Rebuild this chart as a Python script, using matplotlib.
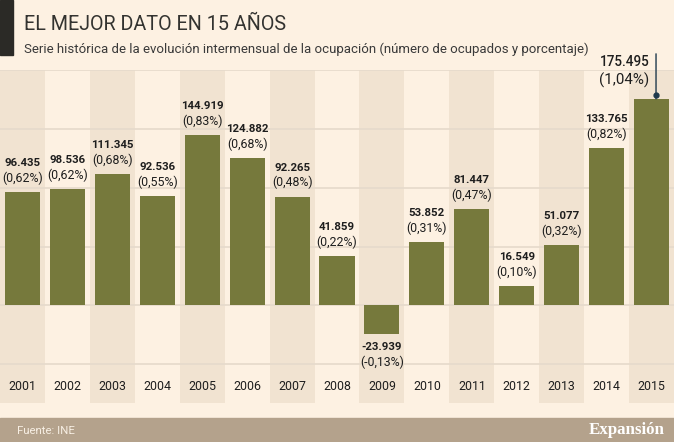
import matplotlib.pyplot as plt
from matplotlib.patches import Rectangle

years = ['2001', '2002', '2003', '2004', '2005', '2006', '2007', '2008',
         '2009', '2010', '2011', '2012', '2013', '2014', '2015']
ocupados = [96435, 98536, 111345, 92536, 144919, 124882, 92265, 41859,
            -23939, 53852, 81447, 16549, 51077, 133765, 175495]
pct = ['0,62', '0,62', '0,68', '0,55', '0,83', '0,68', '0,48', '0,22',
       '-0,13', '0,31', '0,47', '0,10', '0,32', '0,82', '1,04']

bg = '#fdf1e2'
band = '#f1e3d1'
grid = '#e7dbcc'
bar_col = '#76793c'
txt = '#1e1e1e'

plt.rcParams['font.family'] = ['Roboto', 'DejaVu Sans']

W, H = 674, 442
fig = plt.figure(figsize=(W / 100, H / 100), dpi=100)
fig.patch.set_facecolor(bg)
renderer = fig.canvas.get_renderer()


def fy(py):
    return 1 - py / H


def fit(t, target_px):
    # shrink/grow font until the text is as wide as in the reference
    w = t.get_window_extent(renderer).width
    t.set_fontsize(t.get_fontsize() * target_px / w)
    return t.get_fontsize()


# title block
fig.patches.append(Rectangle((0, fy(55)), 13 / W, 55 / H, transform=fig.transFigure,
                             color='#2b2a26', zorder=5))
t = fig.text(24 / W, fy(24), 'EL MEJOR DATO EN 15 AÑOS', fontsize=16, color='#333330',
             va='center', ha='left')
fit(t, 263)
t = fig.text(24 / W, fy(49), 'Serie histórica de la evolución intermensual de la ocupación '
             '(número de ocupados y porcentaje)', fontsize=10, color='#3a3a3a',
             va='center', ha='left')
fit(t, 566)

# footer
fig.patches.append(Rectangle((0, 0), 1, 24 / H, transform=fig.transFigure,
                             color='#b4a28c', zorder=5))
t = fig.text(17 / W, fy(431), 'Fuente: INE', fontsize=9, color='#f7efe4', va='center',
             ha='left', zorder=6)
fit(t, 58)
t = fig.text(665 / W, fy(430), 'Expansión', fontsize=12.5, color='white', va='center',
             ha='right', family='Liberation Serif', weight='bold', zorder=6)
fit(t, 76)

# chart area: 200.000 sits at y=70px, zero at ~305px, band bottom at 403px
top_px, bot_px = 70, 403
ax = fig.add_axes([0, fy(bot_px), 1, (bot_px - top_px) / H])
ax.set_facecolor(bg)
n = len(years)
x = list(range(n))
ax.set_xlim(-0.5, n - 0.5)
ax.set_ylim(-83000, 200000)
ax.axis('off')

for i in x:
    if i % 2 == 0:
        ax.axvspan(i - 0.5, i + 0.5, color=band, zorder=0, lw=0)
for g in [-50000, 0, 50000, 100000, 150000, 200000]:
    ax.axhline(g, color=grid, lw=1.3, zorder=1)

ax.bar(x, ocupados, width=0.78, color=bar_col, zorder=3)

# label sizes taken from reference widths (a touch larger, reference font is condensed)
probe = ax.text(0, 0, '96.435', weight='bold', fontsize=9)
fs_val = fit(probe, 36)
probe.remove()
probe = ax.text(0, 0, '(0,62%)', fontsize=9)
fs_pct = fit(probe, 41)
probe.remove()

for i, (v, p) in enumerate(zip(ocupados, pct)):
    lab = f'{abs(v):,}'.replace(',', '.')
    if v < 0:
        lab = '-' + lab
    if i == n - 1:
        t1 = ax.annotate(lab, (i - 0.6, v), xytext=(0, 37 * 0.72), textcoords='offset points',
                         ha='center', va='center', fontsize=12, weight='medium', color=txt)
        fit(t1, 50)
        t2 = ax.annotate(f'({p}%)', (i - 0.6, v), xytext=(0, 18 * 0.72),
                         textcoords='offset points', ha='center', va='center',
                         fontsize=12, color=txt)
        fit(t2, 50)
        ax.annotate('', (i + 0.1, v), xytext=(0, 45 * 0.72), textcoords='offset points',
                    arrowprops=dict(arrowstyle='-', color='#1f3a4d', lw=1,
                                    shrinkA=0, shrinkB=0), zorder=4)
        ax.plot([i + 0.1], [v + 3000], 'o', color='#1f3a4d', ms=3.5, zorder=4)
        continue
    ax.annotate(lab, (i, v), xytext=(0, 29 * 0.72 if v >= 0 else -13 * 0.72),
                textcoords='offset points', ha='center', va='center',
                fontsize=fs_val, weight='bold', color=txt)
    ax.annotate(f'({p}%)', (i, v), xytext=(0, 14 * 0.72 if v >= 0 else -29 * 0.72),
                textcoords='offset points', ha='center', va='center',
                fontsize=fs_pct, color=txt)

probe = ax.text(0, 0, '2001', fontsize=9)
fs_year = fit(probe, 28)
probe.remove()
for i, yr in enumerate(years):
    ax.text(i, (bot_px - 387) / (bot_px - top_px), yr, transform=ax.get_xaxis_transform(),
            fontsize=fs_year, ha='center', va='center', color=txt)

fig.savefig('out.png', dpi=100, facecolor=bg)
